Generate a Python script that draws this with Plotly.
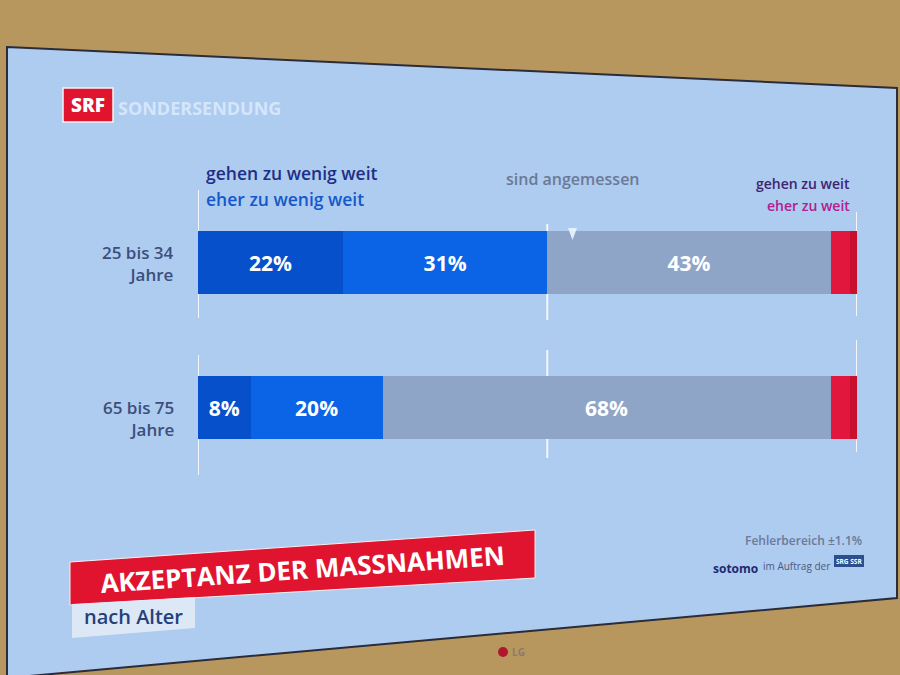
import plotly.graph_objects as go

# ---------------- data ----------------
groups = ["25 bis 34 Jahre", "65 bis 75 Jahre"]
group_labels = ["25 bis 34<br>Jahre", "65 bis 75<br>Jahre"]
series_names = ["gehen zu wenig weit", "eher zu wenig weit", "sind angemessen",
                "eher zu weit", "gehen zu weit"]
gehen_zu_wenig = [22, 8]
eher_zu_wenig = [31, 20]
angemessen = [43, 68]
eher_zu_weit = [3, 3]
gehen_zu_weit = [1, 1]
series_values = [gehen_zu_wenig, eher_zu_wenig, angemessen, eher_zu_weit, gehen_zu_weit]
show_text = [True, True, True, False, False]

# ---------------- style ----------------
bar_colors = ["#0650cc", "#0b63e6", "#8ea5c8", "#e2173d", "#c8102e"]
FONT = "Open Sans"
W, H = 900, 675
ML, MR, MT, MB = 198, 43, 190, 195
PW, PH = W - ML - MR, H - MT - MB


def X(px):
    return (px - ML) / PW


def Y(py):
    return (H - MB - py) / PH


fig = go.Figure()
for name, vals, col, st in zip(series_names, series_values, bar_colors, show_text):
    fig.add_trace(go.Bar(
        y=groups, x=vals, name=name, orientation="h",
        marker=dict(color=col, line=dict(width=0)),
        text=[f"{v}%" for v in vals] if st else None,
        textposition="inside" if st else "none",
        insidetextanchor="middle", textangle=0, constraintext="none",
        insidetextfont=dict(family=FONT, size=21, color="white", weight=700),
        hoverinfo="skip",
    ))

shapes = []
# screen area (TV picture)
shapes.append(dict(type="path", xref="paper", yref="paper", layer="below",
                   path=f"M {X(7)},{Y(47)} L {X(897)},{Y(88)} L {X(897)},{Y(598)} L {X(7)},{Y(678)} Z",
                   fillcolor="#aecbf0", line=dict(color="#2b2c3a", width=2)))
# white guide lines
total = sum(v[0] for v in series_values)
split = gehen_zu_wenig[0] + eher_zu_wenig[0]
guides = [
    (0, 190, 318), (split, 224, 320), (total, 212, 316),
    (0, 355, 475), (split, 350, 458), (total, 340, 452),
]
for gx, y0, y1 in guides:
    shapes.append(dict(type="line", xref="x", yref="paper", layer="below",
                       x0=gx, x1=gx, y0=Y(y0), y1=Y(y1),
                       line=dict(color="rgba(255,255,255,0.85)", width=2)))
# little marker triangle on the split line
shapes.append(dict(type="path", xref="paper", yref="paper", layer="above",
                   path=f"M {X(568)},{Y(228)} L {X(577)},{Y(228)} L {X(572.5)},{Y(240)} Z",
                   fillcolor="rgba(235,245,255,0.9)", line=dict(width=0)))
# SRF logo box
shapes.append(dict(type="rect", xref="paper", yref="paper", layer="above",
                   x0=X(63), x1=X(113), y0=Y(122), y1=Y(88),
                   fillcolor="#e0142e", line=dict(color="#f4f4f4", width=1.5)))
# title banner
shapes.append(dict(type="path", xref="paper", yref="paper", layer="above",
                   path=f"M {X(70)},{Y(562)} L {X(535)},{Y(530)} L {X(535)},{Y(578)} L {X(70)},{Y(605)} Z",
                   fillcolor="#e1142f", line=dict(color="#f2f2f2", width=1)))
shapes.append(dict(type="path", xref="paper", yref="paper", layer="above",
                   path=f"M {X(72)},{Y(604)} L {X(195)},{Y(597)} L {X(195)},{Y(628)} L {X(72)},{Y(638)} Z",
                   fillcolor="#dce8f6", line=dict(width=0)))
# SRG SSR small box
shapes.append(dict(type="rect", xref="paper", yref="paper", layer="above",
                   x0=X(834), x1=X(864), y0=Y(567), y1=Y(555),
                   fillcolor="#2d4f8e", line=dict(width=0)))
# LG logo dot
shapes.append(dict(type="circle", xref="paper", yref="paper", layer="above",
                   x0=X(498), x1=X(508), y0=Y(657), y1=Y(647),
                   fillcolor="#b0162e", line=dict(width=0)))


def ann(text, px, py, size, color, xanchor="left", weight=400, angle=0, yanchor="middle"):
    return dict(text=text, x=X(px), y=Y(py), xref="paper", yref="paper",
                xanchor=xanchor, yanchor=yanchor, showarrow=False, textangle=angle,
                font=dict(family=FONT, size=size, color=color, weight=weight))


annotations = [
    ann("SRF", 88, 105, 19, "white", "center", 800),
    ann("SONDERSENDUNG", 116, 108, 18, "#d4e6fb", "left", 700),
    ann("gehen zu wenig weit", 204, 173, 17.5, "#1d2f86", "left", 600),
    ann("eher zu wenig weit", 204, 199, 17.5, "#1459c9", "left", 600),
    ann("sind angemessen", 573, 179, 16, "#6a7a96", "center", 600),
    ann("gehen zu weit", 852, 183, 14, "#40246f", "right", 600),
    ann("eher zu weit", 852, 205, 14, "#b0208f", "right", 600),
    ann("AKZEPTANZ DER MASSNAHMEN", 302, 569, 26, "white", "center", 700, angle=-4),
    ann("nach Alter", 133, 616, 20, "#26407a", "center", 600),
    ann("Fehlerbereich ±1.1%", 864, 540, 12, "#6a7a98", "right", 600),
    ann("sotomo", 711, 568, 12, "#1d2a70", "left", 700),
    ann("im Auftrag der", 761, 566, 10, "#4a5a80", "left", 500),
    ann("SRG SSR", 849, 561, 6.5, "white", "center", 700),
    ann("LG", 510, 652, 10, "#8a7a6a", "left", 700),
]
for lbl, py in zip(group_labels, [263, 418]):
    annotations.append(dict(text=lbl, x=X(176), y=Y(py), xref="paper", yref="paper",
                            xanchor="right", yanchor="middle", align="right", showarrow=False,
                            font=dict(family=FONT, size=17, color="#3b4f7c", weight=600)))

fig.update_layout(
    width=W, height=H,
    margin=dict(l=ML, r=MR, t=MT, b=MB),
    barmode="stack", bargap=0.57,
    paper_bgcolor="#b8975f", plot_bgcolor="rgba(0,0,0,0)",
    showlegend=False,
    xaxis=dict(range=[0, 100], visible=False, fixedrange=True),
    yaxis=dict(categoryorder="array", categoryarray=groups, autorange="reversed",
               visible=False, fixedrange=True),
    shapes=shapes, annotations=annotations,
    font=dict(family=FONT),
)

fig.write_html("out.html", config={"displayModeBar": False},
               post_script="document.body.style.margin='0px';document.body.style.overflow='hidden';")
